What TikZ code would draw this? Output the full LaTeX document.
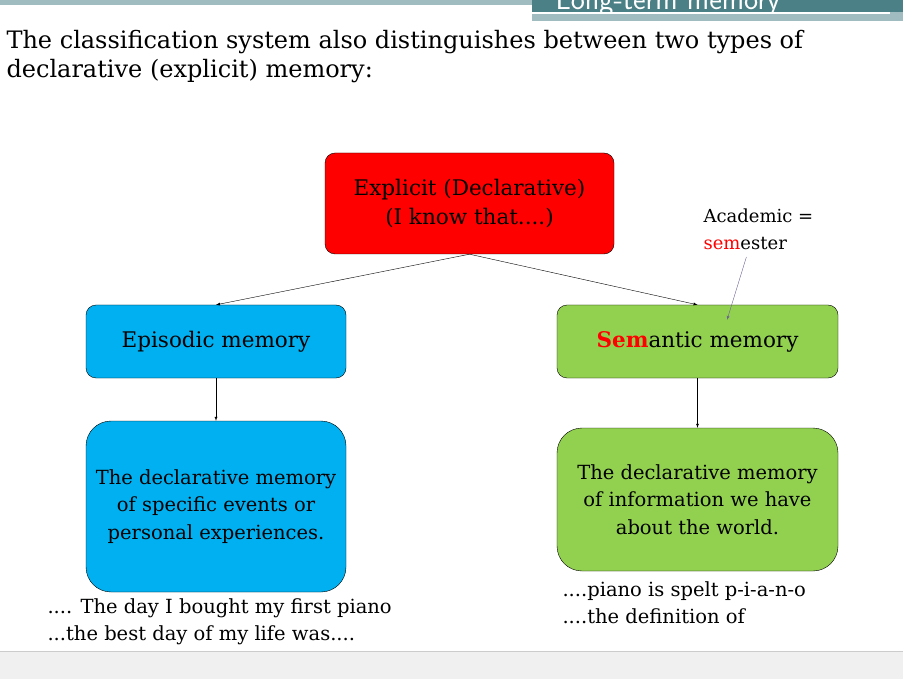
\documentclass[tikz,border=0pt]{standalone}
\usepackage{fontspec}
\setmainfont{DejaVu Serif}
\usetikzlibrary{positioning}
\definecolor{boxred}{RGB}{255,0,0}
\definecolor{boxcyan}{RGB}{0,176,240}
\definecolor{boxgreen}{RGB}{146,208,80}
\definecolor{teal1}{RGB}{160,188,192}
\definecolor{teal2}{RGB}{74,128,134}
\definecolor{annot}{RGB}{110,100,150}
\tikzset{
  box/.style={draw, rounded corners=10pt, align=center, font=\fontsize{21.5}{29}\selectfont},
  descbox/.style={draw, rounded corners=25pt, align=center, font=\fontsize{19.5}{27.5}\selectfont},
  note/.style={anchor=west, align=left, font=\fontsize{19.5}{27}\selectfont},
  link/.style={-latex, thin}
}
\begin{document}
\begin{tikzpicture}[x=1pt,y=-1pt]
    \useasboundingbox (0,0) rectangle (903,679);
    % header
    \fill[teal1] (0,0) rectangle (903,5);
    \fill[teal1] (532,0) rectangle (903,21);
    \fill[teal2] (532,0) rectangle (903,12);
    \fill[white] (532,12) rectangle (890,14);
    \begin{scope}
      \clip (532,0) rectangle (903,12);
      \node[anchor=base west, white, font=\fontsize{30}{30}\selectfont\sffamily] at (552,10) {Long-term memory};
    \end{scope}
    % footer
    \fill[black!6] (0,651) rectangle (903,679);
    \draw[black!20] (0,651) -- (903,651);
    % title
    \node[anchor=north west, align=left, font=\fontsize{24}{29}\selectfont] (title) at (3,27)
      {The classification system also distinguishes between two types of\\declarative (explicit) memory:};
    % boxes
    \node[box, fill=boxred, minimum width=289, minimum height=101] (explicit) at (469.5,203.5)
      {Explicit (Declarative)\\(I know that....)};
    \node[box, fill=boxcyan, minimum width=260, minimum height=73] (episodic) at (216,341.5) {Episodic memory};
    \node[box, fill=boxgreen, minimum width=281, minimum height=73] (semantic) at (697.5,341.5)
      {\textcolor{boxred}{\textbf{Sem}}antic memory};
    \node[descbox, fill=boxcyan, minimum width=260, minimum height=171] (epidesc) at (216,506.5)
      {The declarative memory\\of specific events or\\personal experiences.};
    \node[descbox, fill=boxgreen, minimum width=281, minimum height=143] (semdesc) at (697.5,499.5)
      {The declarative memory\\of information we have\\about the world.};
    % connectors
    \draw[link] (explicit.south) -- (episodic.north);
    \draw[link] (explicit.south) -- (semantic.north);
    \draw[link] (episodic) -- (epidesc);
    \draw[link] (semantic) -- (semdesc);
    % annotation
    \node[note, font=\fontsize{18}{27}\selectfont] (academic) at (700,229)
      {Academic =\\\textcolor{boxred}{sem}ester};
    \coordinate (tip) at (727,320);
    \draw[-latex, annot, thin] (academic.south) ++(-12,4) -- (tip);
    % examples
    \node[note] (epinote) at (44,622) {.... The day I bought my first piano\\...the best day of my life was....};
    \node[note] (semnote) at (559,603) {....piano is spelt p-i-a-n-o\\....the definition of};
\end{tikzpicture}
\end{document}
